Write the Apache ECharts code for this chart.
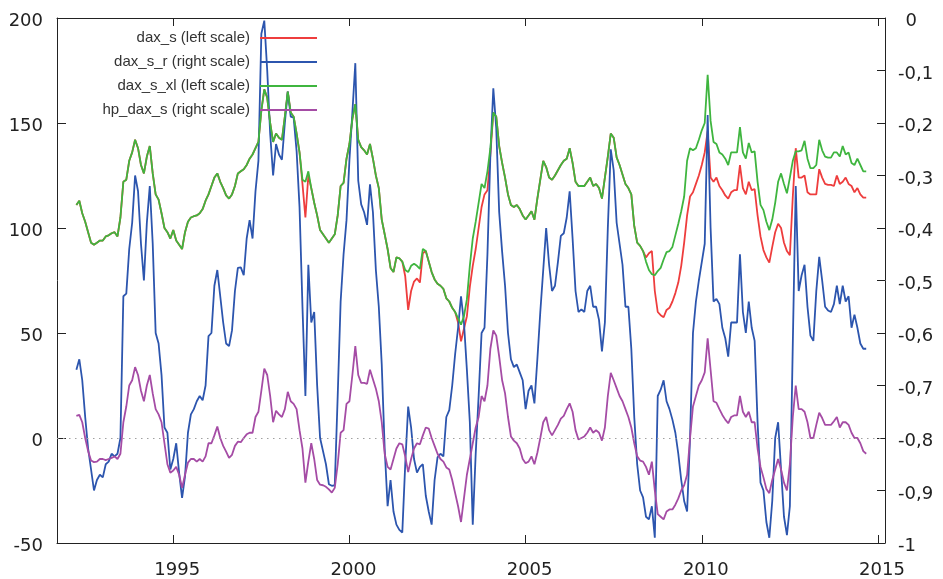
<!DOCTYPE html>
<html>
<head>
<meta charset="utf-8">
<script src="https://cdn.jsdelivr.net/npm/echarts@6/dist/echarts.min.js"></script>
<style>
  html, body { margin: 0; padding: 0; background: #fff; }
  #chart { width: 943px; height: 579px; }
</style>
</head>
<body>
<div id="chart"></div>
<script>
// Monthly observations, first one April 1992
const startYear = 1992.25;
const yearTicks = [1995, 2000, 2005, 2010, 2015];
const seriesNames = ['dax_s (left scale)', 'dax_s_r (right scale)', 'dax_s_xl (left scale)', 'hp_dax_s (right scale)'];

// dax_s (left scale)
const daxS = [
  111, 113, 107, 103, 98, 93, 92, 93, 94, 94, 96, 96.5, 97.5, 98, 96, 105, 122, 123, 132, 136,
  142, 138, 130, 126, 134, 139, 126, 116, 113.5, 107, 100, 98, 95, 99, 94, 92, 90, 98, 103, 105,
  105.6, 106, 107, 109, 113, 116, 120, 124, 126, 122, 119, 115.5, 114, 116, 120, 126, 127, 128, 130, 133,
  135, 138, 141, 156, 166, 162, 150, 141, 145, 143, 142, 153, 165, 155, 153, 145, 136, 121, 105, 125,
  119, 112, 106, 99, 97, 95, 93, 95, 97, 106, 120, 121.5, 133, 140, 152, 159, 142, 138.5, 137, 135,
  140, 133, 125, 119, 104, 97, 90, 81, 79, 86, 85.5, 84, 77, 61, 70, 74.5, 76, 74, 88, 89,
  84, 79, 75.5, 73.5, 72.5, 71, 66.5, 65, 62, 60, 55, 46, 52, 58, 72, 82, 90, 100, 110, 116,
  118, 135, 155, 153, 139, 131, 124, 116, 111, 110, 111, 109, 106, 104, 106, 108, 104, 114, 123, 132,
  129, 124, 123, 125, 127.5, 130, 132, 133, 138, 131, 122, 120, 120, 120, 122, 124, 120, 121, 119, 114,
  124, 134, 145, 143, 133.6, 130, 125.5, 121, 119, 116, 101, 93, 91.5, 89, 86, 88, 89, 70, 60, 58.5,
  57.5, 61, 62, 65, 69, 74, 82, 93, 106, 115, 117, 121, 125, 130, 136, 146, 124, 122, 124, 120,
  118, 115.5, 114, 117, 118, 118, 130, 119, 116, 122, 118, 118.5, 106, 96, 89.5, 86, 83.5, 91, 98, 102,
  100, 93, 89, 87, 115, 138, 124, 124, 125, 117, 116, 116, 116, 128, 124, 121, 120.5, 120.5, 120, 125,
  121, 122, 124, 121, 120, 117, 119, 116, 114.5, 114.5
];

// dax_s_r (right scale)
const daxSR = [
  -0.67, -0.65, -0.69, -0.76, -0.82, -0.86, -0.90, -0.88, -0.87, -0.875, -0.85, -0.845, -0.83, -0.835, -0.83, -0.80, -0.53, -0.525, -0.44, -0.39,
  -0.30, -0.33, -0.43, -0.50, -0.39, -0.32, -0.43, -0.60, -0.62, -0.68, -0.78, -0.79, -0.86, -0.84, -0.81, -0.867, -0.914, -0.873, -0.79, -0.755,
  -0.745, -0.73, -0.72, -0.728, -0.70, -0.606, -0.60, -0.51, -0.48, -0.53, -0.58, -0.62, -0.625, -0.595, -0.52, -0.476, -0.475, -0.49, -0.42, -0.385,
  -0.42, -0.33, -0.272, -0.03, -0.005, -0.10, -0.22, -0.30, -0.24, -0.26, -0.27, -0.20, -0.14, -0.188, -0.19, -0.253, -0.36, -0.55, -0.72, -0.47,
  -0.58, -0.56, -0.70, -0.80, -0.825, -0.85, -0.888, -0.891, -0.89, -0.72, -0.54, -0.45, -0.385, -0.27, -0.18, -0.086, -0.31, -0.355, -0.37, -0.394,
  -0.317, -0.37, -0.48, -0.55, -0.66, -0.82, -0.93, -0.88, -0.94, -0.965, -0.975, -0.98, -0.85, -0.74, -0.78, -0.84, -0.866, -0.855, -0.85, -0.91,
  -0.94, -0.965, -0.88, -0.837, -0.83, -0.835, -0.76, -0.747, -0.70, -0.64, -0.59, -0.53, -0.58, -0.67, -0.77, -0.965, -0.83, -0.72, -0.60, -0.59,
  -0.45, -0.26, -0.134, -0.21, -0.37, -0.445, -0.51, -0.60, -0.65, -0.665, -0.66, -0.675, -0.69, -0.745, -0.71, -0.70, -0.734, -0.65, -0.56, -0.48,
  -0.40, -0.47, -0.52, -0.51, -0.465, -0.415, -0.41, -0.38, -0.33, -0.42, -0.52, -0.56, -0.555, -0.56, -0.52, -0.51, -0.55, -0.55, -0.575, -0.635,
  -0.58, -0.40, -0.25, -0.29, -0.39, -0.43, -0.47, -0.55, -0.55, -0.63, -0.76, -0.85, -0.90, -0.913, -0.95, -0.955, -0.93, -0.99, -0.72, -0.708,
  -0.69, -0.73, -0.745, -0.765, -0.79, -0.83, -0.88, -0.92, -0.94, -0.80, -0.60, -0.54, -0.50, -0.465, -0.43, -0.185, -0.40, -0.54, -0.535, -0.545,
  -0.59, -0.61, -0.645, -0.58, -0.58, -0.58, -0.45, -0.56, -0.60, -0.54, -0.59, -0.615, -0.77, -0.885, -0.90, -0.96, -0.99, -0.92, -0.80, -0.77,
  -0.86, -0.95, -0.985, -0.93, -0.62, -0.32, -0.52, -0.49, -0.47, -0.55, -0.605, -0.615, -0.52, -0.455, -0.50, -0.55, -0.557, -0.56, -0.545, -0.51,
  -0.545, -0.51, -0.54, -0.53, -0.59, -0.565, -0.59, -0.62, -0.63, -0.63
];

// dax_s_xl (left scale)
const daxSXl = [
  111, 113, 107, 103, 98, 93, 92, 93, 94, 94, 96, 96.5, 97.5, 98, 96, 105, 122, 123, 132, 136,
  142, 138, 130, 126, 134, 139, 126, 116, 113.5, 107, 100, 98, 95, 99, 94, 92, 90, 98, 103, 105,
  105.6, 106, 107, 109, 113, 116, 120, 124, 126, 122, 119, 115.5, 114, 116, 120, 126, 127, 128, 130, 133,
  135, 138, 141, 156, 166, 162, 150, 141, 145, 143, 142, 153, 165, 155, 153, 145, 136, 123, 122, 127,
  119, 112, 106, 99, 97, 95, 93, 95, 97, 106, 120, 121.5, 133, 140, 152, 159, 142, 138.5, 137, 135,
  140, 133, 125, 119, 104, 97, 90, 81, 79, 86, 85.5, 84, 80, 79, 82, 83, 82, 80.5, 90, 89,
  84, 79, 75.5, 73.5, 72.5, 71, 66.5, 65, 62, 60, 57, 54, 58, 66, 82, 95, 103, 112, 121, 119,
  127, 138, 155, 153, 139, 131, 124, 116, 111, 110, 111, 109, 106, 104, 106, 108, 104, 114, 123, 132,
  129, 124, 123, 125, 127.5, 130, 132, 133, 138, 131, 122, 120, 120, 120, 122, 124, 120, 121, 119, 114,
  124, 134, 145, 143, 133.6, 130, 125.5, 121, 119, 116, 101, 93, 91.5, 89, 84, 80, 78, 77.5, 79.5, 81,
  85, 88.5, 89, 91, 96.5, 102, 108, 115, 132, 138, 137, 138, 142, 146.5, 150, 173, 151, 141, 140, 136,
  135, 133, 130, 136, 136, 136, 148, 136, 133, 140.5, 136, 136.5, 122, 111, 108.5, 103, 99, 104, 112, 122,
  126, 121, 116.5, 124, 132, 136.5, 136.5, 137, 141.5, 133, 128.5, 128.5, 130, 142, 137, 134, 133.5, 133.5, 136, 136,
  134, 139, 135, 136, 131, 130, 133, 130, 127, 127
];

// hp_dax_s (right scale)
const hpDaxS = [
  -0.758, -0.756, -0.77, -0.80, -0.825, -0.843, -0.846, -0.845, -0.84, -0.84, -0.842, -0.84, -0.838, -0.835, -0.84, -0.83, -0.77, -0.74, -0.70, -0.69,
  -0.665, -0.68, -0.71, -0.73, -0.70, -0.68, -0.715, -0.745, -0.755, -0.77, -0.81, -0.85, -0.866, -0.862, -0.855, -0.87, -0.895, -0.87, -0.847, -0.84,
  -0.84, -0.845, -0.84, -0.845, -0.835, -0.81, -0.81, -0.795, -0.778, -0.80, -0.815, -0.826, -0.838, -0.832, -0.815, -0.807, -0.808, -0.80, -0.793, -0.79,
  -0.79, -0.76, -0.75, -0.71, -0.668, -0.68, -0.72, -0.77, -0.748, -0.755, -0.76, -0.745, -0.712, -0.73, -0.735, -0.745, -0.785, -0.82, -0.885, -0.845,
  -0.81, -0.84, -0.88, -0.889, -0.89, -0.893, -0.898, -0.904, -0.895, -0.85, -0.79, -0.785, -0.735, -0.73, -0.68, -0.625, -0.68, -0.695, -0.695, -0.697,
  -0.67, -0.688, -0.706, -0.73, -0.77, -0.83, -0.855, -0.86, -0.84, -0.82, -0.81, -0.812, -0.835, -0.865, -0.84, -0.82, -0.81, -0.812, -0.795, -0.78,
  -0.782, -0.80, -0.815, -0.83, -0.84, -0.845, -0.856, -0.86, -0.88, -0.905, -0.93, -0.96, -0.915, -0.87, -0.84, -0.81, -0.78, -0.76, -0.72, -0.73,
  -0.70, -0.63, -0.595, -0.605, -0.645, -0.69, -0.715, -0.76, -0.797, -0.805, -0.81, -0.82, -0.84, -0.848, -0.845, -0.835, -0.85, -0.828, -0.80, -0.77,
  -0.76, -0.785, -0.795, -0.785, -0.775, -0.763, -0.758, -0.745, -0.734, -0.75, -0.785, -0.803, -0.80, -0.797, -0.79, -0.78, -0.79, -0.785, -0.79, -0.805,
  -0.78, -0.72, -0.676, -0.69, -0.705, -0.72, -0.73, -0.745, -0.76, -0.78, -0.81, -0.835, -0.843, -0.845, -0.855, -0.87, -0.845, -0.90, -0.945, -0.95,
  -0.955, -0.94, -0.936, -0.936, -0.927, -0.915, -0.90, -0.89, -0.87, -0.80, -0.74, -0.72, -0.70, -0.69, -0.675, -0.61, -0.67, -0.73, -0.733, -0.745,
  -0.756, -0.765, -0.772, -0.76, -0.757, -0.757, -0.72, -0.75, -0.76, -0.75, -0.77, -0.77, -0.82, -0.855, -0.875, -0.897, -0.905, -0.88, -0.86, -0.84,
  -0.86, -0.885, -0.90, -0.85, -0.76, -0.70, -0.745, -0.745, -0.75, -0.77, -0.80, -0.80, -0.775, -0.752, -0.762, -0.775, -0.775, -0.775, -0.768, -0.76,
  -0.78, -0.77, -0.77, -0.775, -0.79, -0.80, -0.80, -0.81, -0.825, -0.83
];

const colors = ['#ee3d3d', '#2c55ae', '#3fb53f', '#a54ca5'];

// Pair each monthly value with its year fraction
const withDates = (vals) => vals.map((v, i) => [startYear + i / 12, v]);

const fontFamily = '"DejaVu Sans", Verdana, sans-serif';
const axisLineStyle = { color: '#222', width: 1 };
const labelFont = { fontSize: 18, color: '#222', fontFamily: fontFamily };
// y labels sit a little below their tick marks
const yLabelShift = { verticalAlign: 'top', lineHeight: 7 };

const chart = echarts.init(document.getElementById('chart'), null, { renderer: 'canvas' });

function lineSeries(name, vals, yIndex, color, extra) {
  return Object.assign({
    name: name,
    type: 'line',
    xAxisIndex: 0,
    yAxisIndex: yIndex,
    data: withDates(vals),
    showSymbol: false,
    symbol: 'none',
    lineStyle: { color: color, width: 1.8 },
    itemStyle: { color: color },
    emphasis: { disabled: true },
    silent: true
  }, extra || {});
}

chart.setOption({
  animation: false,
  backgroundColor: '#ffffff',
  grid: { left: 57, right: 58, top: 18, bottom: 36, containLabel: false },
  legend: {
    orient: 'vertical',
    align: 'right',
    right: 626,
    top: 30,
    padding: 0,
    itemGap: 8,
    itemWidth: 57,
    itemHeight: 2,
    icon: 'rect',
    selectedMode: false,
    textStyle: {
      fontFamily: '"Liberation Sans", Arial, sans-serif',
      fontSize: 15,
      color: '#333',
      lineHeight: 16,
      padding: [0, 5, 0, 0]
    },
    data: seriesNames
  },
  xAxis: [
    {
      type: 'value',
      position: 'bottom',
      min: 1991.7,
      max: 2015.2,
      axisLine: { show: true, onZero: false, lineStyle: axisLineStyle },
      axisTick: { show: true, inside: true, length: 8, customValues: yearTicks, lineStyle: axisLineStyle },
      axisLabel: Object.assign({
        customValues: yearTicks,
        margin: 18,
        padding: [0, 0, 0, 8],
        formatter: (v) => String(Math.round(v))
      }, labelFont),
      splitLine: { show: false }
    },
    {
      type: 'value',
      position: 'top',
      min: 1991.7,
      max: 2015.2,
      axisLine: { show: true, onZero: false, lineStyle: axisLineStyle },
      axisTick: { show: true, inside: true, length: 8, customValues: yearTicks, lineStyle: axisLineStyle },
      axisLabel: { show: false },
      splitLine: { show: false }
    }
  ],
  yAxis: [
    {
      type: 'value',
      position: 'left',
      min: -50,
      max: 200,
      interval: 50,
      axisLine: { show: true, onZero: false, lineStyle: axisLineStyle },
      axisTick: { show: true, inside: true, length: 9, lineStyle: axisLineStyle },
      axisLabel: Object.assign({ margin: 14 }, labelFont, yLabelShift),
      splitLine: { show: false }
    },
    {
      type: 'value',
      position: 'right',
      min: -1,
      max: 0,
      interval: 0.1,
      axisLine: { show: true, onZero: false, lineStyle: axisLineStyle },
      axisTick: { show: true, inside: true, length: 8, lineStyle: axisLineStyle },
      axisLabel: Object.assign({
        margin: 13,
        formatter: (v) => {
          const r = Math.round(v * 10) / 10;
          if (r === 0) return '\u2008\u200a0';
          if (r === -1) return '-1';
          return r.toFixed(1).replace('.', ',');
        }
      }, labelFont, yLabelShift),
      splitLine: { show: false }
    }
  ],
  series: [
    lineSeries(seriesNames[0], daxS, 0, colors[0], {
      markLine: {
        silent: true,
        symbol: 'none',
        label: { show: false },
        lineStyle: { color: '#a0a0a0', type: [1.5, 4.5], width: 1 },
        data: [{ yAxis: 0 }]
      }
    }),
    lineSeries(seriesNames[1], daxSR, 1, colors[1]),
    lineSeries(seriesNames[2], daxSXl, 0, colors[2]),
    lineSeries(seriesNames[3], hpDaxS, 1, colors[3])
  ]
});
</script>
</body>
</html>
